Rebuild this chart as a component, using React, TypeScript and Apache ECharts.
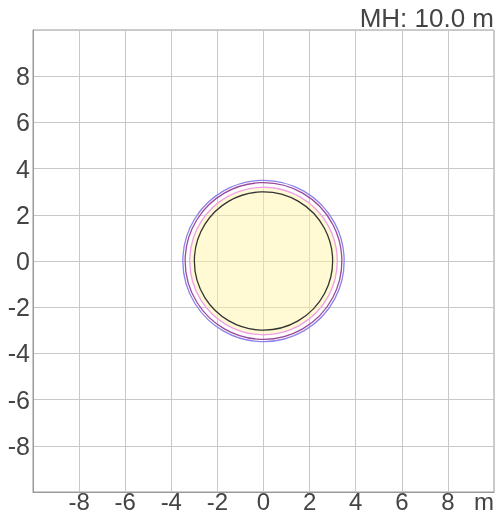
import React, { useEffect, useRef } from "react";
import * as echarts from "echarts";

const axisMin = -10;
const axisMax = 10;
const tickStep = 2;
const unitLabel = "m";
const titleText = "MH: 10.0 m";

// circles centred at origin: radius in metres
const circleCenterX = [0, 0, 0, 0];
const circleCenterY = [0, 0, 0, 0];
const circleRadii = [3.5, 3.4, 3.2, 3.0];

const circleStrokes = ["#8d83ea", "#9a4a9a", "#f0a0e6", "#333333"];
const circleFills = ["none", "none", "rgba(255,244,160,0.45)", "none"];

export default function App() {
  const ref = useRef<HTMLDivElement>(null);
  useEffect(() => {
    if (!ref.current) return;
    const chart = echarts.init(ref.current, null, { renderer: "svg" });
    const font = "Liberation Sans, Arial, sans-serif";
    const data = circleRadii.map((r, i) => [circleCenterX[i], circleCenterY[i], r, i]);
    chart.setOption({
      animation: false,
      grid: {
        left: 33,
        top: 30,
        width: 461,
        height: 462,
        containLabel: false,
        outerBoundsMode: "none",
        show: true,
        borderColor: "#9a9a9a",
        borderWidth: 1,
        backgroundColor: "transparent",
      },
      graphic: [
        {
          type: "text",
          right: 1,
          top: 5,
          style: {
            text: titleText,
            fontSize: 26,
            fontFamily: font,
            fill: "#444",
          },
        },
      ],
      xAxis: {
        type: "value",
        min: axisMin,
        max: axisMax,
        interval: tickStep,
        axisLine: { show: true, onZero: false, lineStyle: { color: "#9a9a9a" } },
        axisTick: { show: false },
        splitLine: { show: true, lineStyle: { color: "#c8c8c8", width: 1 } },
        axisLabel: {
          fontSize: 24,
          lineHeight: 18,
          fontFamily: font,
          color: "#444",
          margin: 0,
          showMinLabel: true,
          showMaxLabel: true,
          alignMaxLabel: "right",
          formatter: (v: number) =>
            v === axisMax ? unitLabel : v === axisMin ? "" : String(v),
        },
      },
      yAxis: {
        type: "value",
        min: axisMin,
        max: axisMax,
        interval: tickStep,
        axisLine: { show: true, onZero: false, lineStyle: { color: "#9a9a9a" } },
        axisTick: { show: false },
        splitLine: { show: true, lineStyle: { color: "#c8c8c8", width: 1 } },
        axisLabel: {
          fontSize: 25,
          fontFamily: font,
          color: "#444",
          margin: 3,
          formatter: (v: number) =>
            v === axisMax || v === axisMin ? "" : String(v),
        },
      },
      series: [
        {
          type: "custom",
          coordinateSystem: "cartesian2d",
          clip: true,
          data,
          renderItem: (params: any, api: any) => {
            const idx = api.value(3);
            const c = api.coord([api.value(0), api.value(1)]);
            const s = api.size([api.value(2), 0]);
            return {
              type: "circle",
              shape: { cx: c[0], cy: c[1], r: s[0] },
              style: {
                fill: circleFills[idx],
                stroke: circleStrokes[idx],
                lineWidth: 1.3,
              },
            };
          },
        },
      ],
    });
    return () => chart.dispose();
  }, []);
  return (
    <div
      ref={ref}
      style={{ position: "fixed", left: 0, top: 0, width: 495, height: 514 }}
    />
  );
}
